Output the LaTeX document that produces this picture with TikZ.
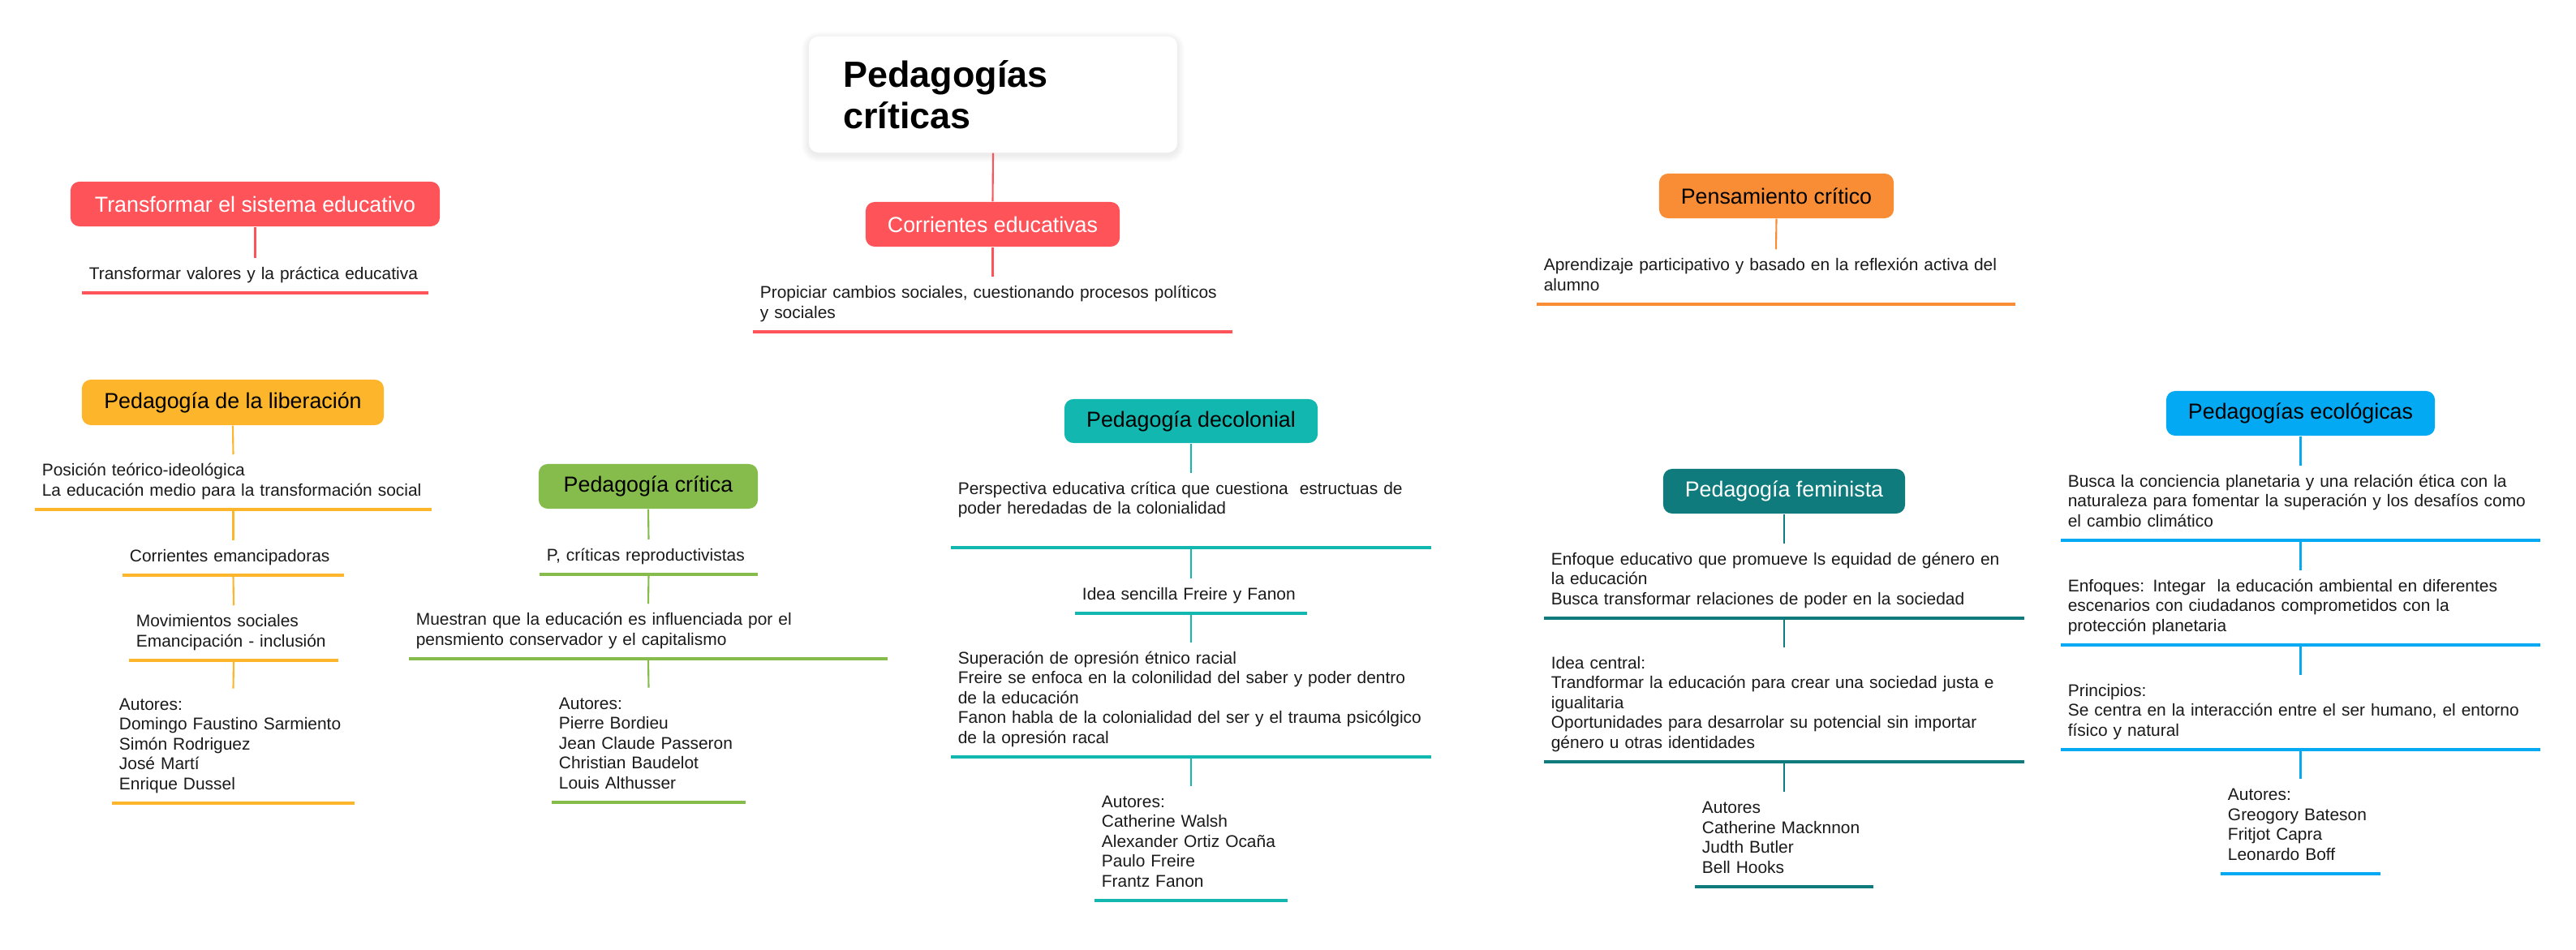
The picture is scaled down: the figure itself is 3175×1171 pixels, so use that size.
\documentclass[tikz,border=0pt]{standalone}
\usepackage{fontspec}
\setmainfont{Liberation Sans}
\definecolor{cred}{HTML}{FF535A}
\definecolor{cyel}{HTML}{FDB52C}
\definecolor{cgrn}{HTML}{85BC4C}
\definecolor{cteal}{HTML}{12B8AF}
\definecolor{cdteal}{HTML}{0F7B7D}
\definecolor{cblue}{HTML}{03A9F3}
\definecolor{corg}{HTML}{F88D36}
\definecolor{txt}{HTML}{1A1A1A}
\begin{document}
\begin{tikzpicture}[x=0.01cm,y=-0.01cm,
 head/.style={rounded corners=0.11cm, inner sep=0pt, minimum height=0.55cm, font=\fontsize{7.62}{9}\selectfont, align=center},
 leaf/.style={anchor=south, align=left, inner xsep=0.08cm, inner ysep=0.0865cm, font=\fontsize{5.95}{6.97}\selectfont, text=txt, execute at begin node=\strut, execute at end node=\strut},
 ul/.style={line width=0.9pt},
 vl/.style={line width=0.6pt},
 softshadow/.style={fill=black, opacity=0.009},
]
\useasboundingbox[fill=white] (0,0) rectangle (3175,1171);

% soft shadow of the central card
\foreach \k in {1,...,9}
  \fill[softshadow, rounded corners=0.12cm+\k*0.01cm] (997-\k,45-\k+3) rectangle (1451+\k,188+\k+3);

% central
\node[fill=white, rounded corners=0.12cm, minimum width=4.54cm, minimum height=1.43cm,
      text width=3.69cm, align=left, inner sep=0pt, text=black,
      font=\fontsize{12.77}{14.5}\selectfont\bfseries] (title) at (1224,116.5) {Pedagogías\\críticas};

% headings
\node[head, fill=cred, text=white, minimum width=3.13cm] (corr) at (1223.5,276.5) {Corrientes educativas};
\node[head, fill=cred, text=white, minimum width=4.55cm] (transf) at (314.5,251.5) {Transformar el sistema educativo};
\node[head, fill=corg, text=black, minimum width=2.89cm] (pens) at (2189.5,241.5) {Pensamiento crítico};
\node[head, fill=cyel, text=black, minimum width=3.72cm, minimum height=0.56cm] (lib) at (287,496) {Pedagogía de la liberación};
\node[head, fill=cgrn, text=black, minimum width=2.70cm] (crit) at (799,599.5) {Pedagogía crítica};
\node[head, fill=cteal, text=black, minimum width=3.12cm, minimum height=0.54cm] (decol) at (1468,519) {Pedagogía decolonial};
\node[head, fill=cdteal, text=white, minimum width=2.98cm] (fem) at (2199,605.5) {Pedagogía feminista};
\node[head, fill=cblue, text=black, minimum width=3.31cm] (eco) at (2835.5,509.5) {Pedagogías ecológicas};

% leaves
\node[leaf, text width=5.73cm] (prop) at (1223.5,409) {Propiciar cambios sociales, cuestionando procesos políticos\\y sociales};
\node[leaf, text width=4.09cm] (tval) at (314.5,361) {Transformar valores y la práctica educativa};
\node[leaf, text width=5.72cm] (apr) at (2189,375) {Aprendizaje participativo y basado en la reflexión activa del\\alumno};

\node[leaf, text width=4.71cm] (lib1) at (287.5,628) {Posición teórico-ideológica\\La educación medio para la transformación social};
\node[leaf, text width=2.55cm] (lib2) at (287.5,709) {Corrientes emancipadoras};
\node[leaf, text width=2.40cm] (lib3) at (288,814) {Movimientos sociales\\Emancipación - inclusión};
\node[leaf, text width=2.81cm] (lib4) at (287.5,990) {Autores:\\Domingo Faustino Sarmiento\\Simón Rodriguez\\José Martí\\Enrique Dussel};

\node[leaf, text width=2.51cm] (cr1) at (799.5,708) {P, críticas reproductivistas};
\node[leaf, text width=5.72cm] (cr2) at (799,812) {Muestran que la educación es influenciada por el\\pensmiento conservador y el capitalismo};
\node[leaf, text width=2.21cm] (cr3) at (799.5,989) {Autores:\\Pierre Bordieu\\Jean Claude Passeron\\Christian Baudelot\\Louis Althusser};

\node[leaf, text width=5.74cm] (de1) at (1468,675) {Perspectiva educativa crítica que cuestiona\ \ estructuas de\\poder heredadas de la colonialidad\\};
\node[leaf, text width=2.68cm] (de2) at (1468,756) {Idea sencilla Freire y Fanon};
\node[leaf, text width=5.74cm] (de3) at (1468,933) {Superación de opresión étnico racial\\Freire se enfoca en la colonilidad del saber y poder dentro\\de la educación\\Fanon habla de la colonialidad del ser y el trauma psicólgico\\de la opresión racal};
\node[leaf, text width=2.20cm] (de4) at (1468,1110) {Autores:\\Catherine Walsh\\Alexander Ortiz Ocaña\\Paulo Freire\\Frantz Fanon};

\node[leaf, text width=5.74cm] (fe1) at (2199,762) {Enfoque educativo que promueve ls equidad de género en\\la educación\\Busca transformar relaciones de poder en la sociedad};
\node[leaf, text width=5.74cm] (fe2) at (2199,939) {Idea central:\\Trandformar la educación para crear una sociedad justa e\\igualitaria\\Oportunidades para desarrolar su potencial sin importar\\género u otras identidades};
\node[leaf, text width=2.02cm] (fe3) at (2199,1093) {Autores\\Catherine Macknnon\\Judth Butler\\Bell Hooks};

\node[leaf, text width=5.73cm] (ec1) at (2835.5,666) {Busca la conciencia planetaria y una relación ética con la\\naturaleza para fomentar la superación y los desafíos como\\el cambio climático};
\node[leaf, text width=5.73cm] (ec2) at (2835.5,795) {Enfoques: Integar\ \ la educación ambiental en diferentes\\escenarios con ciudadanos comprometidos con la\\protección planetaria};
\node[leaf, text width=5.73cm] (ec3) at (2835.5,924) {Principios:\\Se centra en la interacción entre el ser humano, el entorno\\físico y natural};
\node[leaf, text width=1.79cm] (ec4) at (2835.5,1077) {Autores:\\Greogory Bateson\\Fritjot Capra\\Leonardo Boff};

% underlines
\foreach \n/\c in {prop/cred,tval/cred,apr/corg,lib1/cyel,lib2/cyel,lib3/cyel,lib4/cyel,cr1/cgrn,cr2/cgrn,cr3/cgrn,de1/cteal,de2/cteal,de3/cteal,de4/cteal,fe1/cdteal,fe2/cdteal,fe3/cdteal,ec1/cblue,ec2/cblue,ec3/cblue,ec4/cblue}
  \draw[ul,\c] (\n.south west) -- (\n.south east);

% connectors
\foreach \a/\b/\c in {title/corr/cred,corr/prop/cred,transf/tval/cred,pens/apr/corg,
  lib/lib1/cyel,lib1/lib2/cyel,lib2/lib3/cyel,lib3/lib4/cyel,
  crit/cr1/cgrn,cr1/cr2/cgrn,cr2/cr3/cgrn,
  decol/de1/cteal,de1/de2/cteal,de2/de3/cteal,de3/de4/cteal,
  fem/fe1/cdteal,fe1/fe2/cdteal,fe2/fe3/cdteal,
  eco/ec1/cblue,ec1/ec2/cblue,ec2/ec3/cblue,ec3/ec4/cblue}
  \draw[vl,\c] (\a.south) -- (\b.north);
\end{tikzpicture}
\end{document}
